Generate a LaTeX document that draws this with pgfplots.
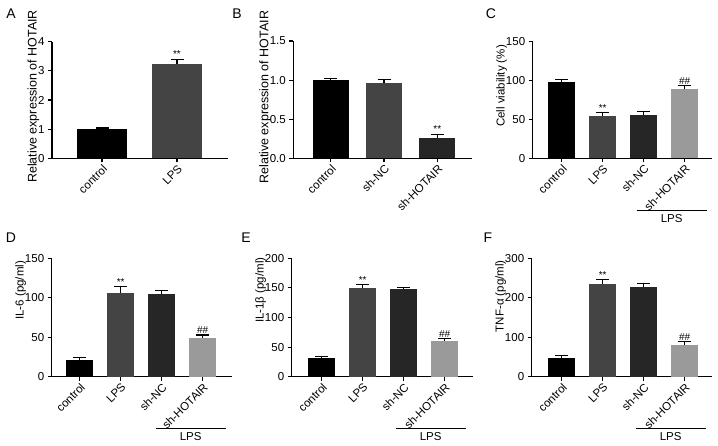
\documentclass[border=0pt]{standalone}
\usepackage{pgfplots}
\pgfplotsset{compat=1.18}
\usepackage{fontspec}
\setmainfont{Liberation Sans}
\definecolor{cLPS}{HTML}{444444}
\definecolor{cNC}{HTML}{262626}
\definecolor{cSH}{HTML}{9A9A9A}
\tikzset{sig/.style={font=\fontsize{10}{10}\selectfont, inner sep=1pt, above}}
\pgfplotsset{
  gp/.style={
    scale only axis,
    anchor=south west,
    axis x line*=bottom,
    axis y line*=left,
    axis line style={line width=1.1pt,-},
    every tick/.style={line width=1.1pt,black},
    major tick length=4pt,
    tick align=outside,
    ymin=0, xmin=0,
    clip=false,
    tick label style={font=\fontsize{11.5}{13}\selectfont},
    /pgf/number format/assume math mode=true,
    xticklabel style={rotate=45, anchor=north east, inner sep=1pt},
    ylabel style={font=\fontsize{11.5}{13}\selectfont, yshift=-8pt},
    ybar, bar shift=0pt,
    error bars/y dir=plus, error bars/y explicit,
    error bars/error bar style={line width=1.1pt, black},
    error bars/error mark options={rotate=90, mark size=6.5pt, line width=1.1pt, black},
  },
}
\begin{document}
\begin{tikzpicture}
\path (0pt,0pt) rectangle (718pt,446pt);
% Panel A
\begin{axis}[gp, at={(52pt,287.7pt)}, width=176pt, height=116.6pt,
  xmax=176, ymax=4, ytick={0,1,2,3,4}, xtick={50,125}, xticklabels={control,LPS},
  bar width=50, ylabel={Relative expression of HOTAIR},
  ylabel style={at={(ticklabel cs:0.53)}, font=\fontsize{12.5}{14}\selectfont}]
\addplot[fill=black, draw=none] coordinates {(50,1.00) +- (0,0.04)};
\addplot[fill=cLPS, draw=none] coordinates {(125,3.24) +- (0,0.15)};
\node[sig] at (axis cs:125,3.40) {**};
\end{axis}
% Panel B
\begin{axis}[gp, at={(293.3pt,287.7pt)}, width=178.7pt, height=117.3pt,
  xmax=178.7, ymax=1.5, ytick={0,0.5,1,1.5},
  yticklabel style={/pgf/number format/fixed, /pgf/number format/fixed zerofill, /pgf/number format/precision=1},
  xtick={37.4,90.7,144}, xticklabels={control,sh-NC,sh-HOTAIR},
  bar width=36, ylabel={Relative expression of HOTAIR},
  ylabel style={at={(ticklabel cs:0.52)}, font=\fontsize{12.5}{14}\selectfont}]
\addplot[fill=black, draw=none] coordinates {(37.4,1.00) +- (0,0.02)};
\addplot[fill=cLPS, draw=none] coordinates {(90.7,0.96) +- (0,0.05)};
\addplot[fill=cNC, draw=none] coordinates {(144,0.265) +- (0,0.045)};
\node[sig] at (axis cs:144,0.31) {**};
\end{axis}
% Panel C
\begin{axis}[gp, at={(532.7pt,287.7pt)}, width=179pt, height=116.6pt,
  xmax=179, ymax=150, ytick={0,50,100,150},
  xtick={29,70,111,152}, xticklabels={control,LPS,sh-NC,sh-HOTAIR},
  bar width=27.5, ylabel={Cell viability (\%)}, ylabel style={at={(ticklabel cs:0.62)}}]
\addplot[fill=black, draw=none] coordinates {(29,98.5) +- (0,3.1)};
\addplot[fill=cLPS, draw=none] coordinates {(70,54.8) +- (0,3.9)};
\addplot[fill=cNC, draw=none] coordinates {(111,55.7) +- (0,4.3)};
\addplot[fill=cSH, draw=none] coordinates {(152,88.8) +- (0,5.1)};
\node[sig] at (axis cs:70,58.7) {**};
\node[sig] at (axis cs:152,93.9) {\#\#};
\end{axis}
% Panel D
\begin{axis}[gp, at={(51.7pt,69.3pt)}, width=180pt, height=118.4pt,
  xmax=180, ymax=150, ytick={0,50,100,150},
  xtick={28,69,110,151}, xticklabels={control,LPS,sh-NC,sh-HOTAIR},
  bar width=27.5, ylabel={IL-6 (pg/ml)}, ylabel style={at={(ticklabel cs:0.73)}}]
\addplot[fill=black, draw=none] coordinates {(28,21.2) +- (0,2.8)};
\addplot[fill=cLPS, draw=none] coordinates {(69,106.4) +- (0,7.6)};
\addplot[fill=cNC, draw=none] coordinates {(110,104.4) +- (0,4.6)};
\addplot[fill=cSH, draw=none] coordinates {(151,49.4) +- (0,3.4)};
\node[sig] at (axis cs:69,114) {**};
\node[sig] at (axis cs:151,52.8) {\#\#};
\end{axis}
% Panel E
\begin{axis}[gp, at={(291.7pt,69.3pt)}, width=181pt, height=118.4pt,
  xmax=181, ymax=200, ytick={0,50,100,150,200},
  xtick={30,71,112,153}, xticklabels={control,LPS,sh-NC,sh-HOTAIR},
  bar width=27.5, ylabel={IL-1β (pg/ml)}, ylabel style={at={(ticklabel cs:0.73)}}]
\addplot[fill=black, draw=none] coordinates {(30,32.1) +- (0,2.3)};
\addplot[fill=cLPS, draw=none] coordinates {(71,150.3) +- (0,5.7)};
\addplot[fill=cNC, draw=none] coordinates {(112,147.6) +- (0,2.7)};
\addplot[fill=cSH, draw=none] coordinates {(153,60.3) +- (0,4.6)};
\node[sig] at (axis cs:71,156) {**};
\node[sig] at (axis cs:153,64.9) {\#\#};
\end{axis}
% Panel F
\begin{axis}[gp, at={(531.7pt,69.3pt)}, width=180pt, height=118.4pt,
  xmax=180, ymax=300, ytick={0,100,200,300},
  xtick={30,71,112,153}, xticklabels={control,LPS,sh-NC,sh-HOTAIR},
  bar width=27.5, ylabel={TNF-α (pg/ml)}, ylabel style={at={(ticklabel cs:0.68)}}]
\addplot[fill=black, draw=none] coordinates {(30,48.1) +- (0,5.9)};
\addplot[fill=cLPS, draw=none] coordinates {(71,234) +- (0,12.7)};
\addplot[fill=cNC, draw=none] coordinates {(112,228) +- (0,8.5)};
\addplot[fill=cSH, draw=none] coordinates {(153,80.3) +- (0,8.4)};
\node[sig] at (axis cs:71,246.7) {**};
\node[sig] at (axis cs:153,88.7) {\#\#};
\end{axis}
% LPS brackets
\begin{scope}[line width=1pt]
\draw (636.7pt,235pt) -- (706.7pt,235pt);
\node[font=\fontsize{11.5}{13}\selectfont] at (671.7pt,227pt) {LPS};
\draw (155.7pt,17pt) -- (225.7pt,17pt);
\node[font=\fontsize{11.5}{13}\selectfont] at (190.7pt,9pt) {LPS};
\draw (395.7pt,17pt) -- (465.7pt,17pt);
\node[font=\fontsize{11.5}{13}\selectfont] at (430.7pt,9pt) {LPS};
\draw (635.7pt,17pt) -- (705.7pt,17pt);
\node[font=\fontsize{11.5}{13}\selectfont] at (670.7pt,9pt) {LPS};
\end{scope}
% panel letters
\begin{scope}[font=\fontsize{14}{16}\selectfont]
\node at (11pt,432.5pt) {A};
\node at (237pt,432.5pt) {B};
\node at (491pt,432pt) {C};
\node at (11pt,208pt) {D};
\node at (246pt,208pt) {E};
\node at (488pt,208pt) {F};
\end{scope}
\end{tikzpicture}
\end{document}
